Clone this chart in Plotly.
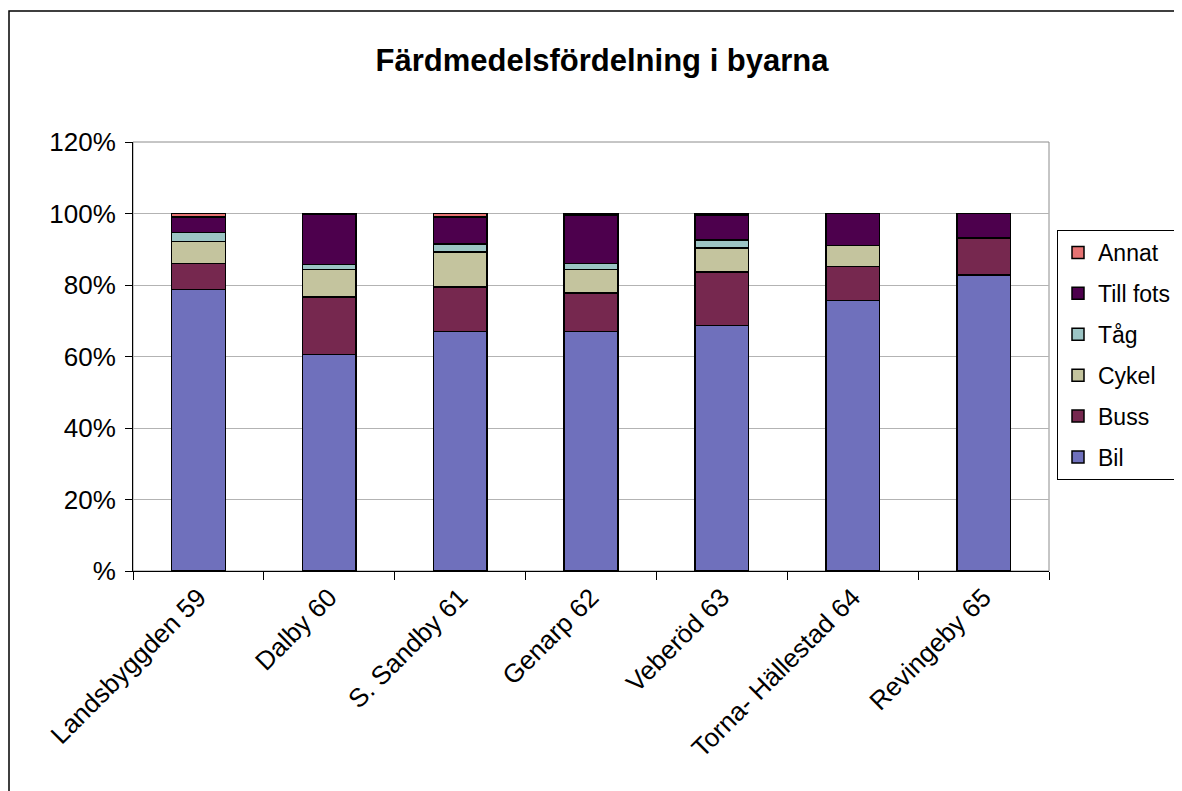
import plotly.graph_objects as go

# Färdmedelsfördelning per by (procent)
byar = ["Landsbyggden 59", "Dalby 60", "S. Sandby 61", "Genarp 62",
        "Veberöd 63", "Torna- Hällestad 64", "Revingeby 65"]

bil = [78.8, 60.6, 67.0, 67.0, 68.7, 75.7, 82.8]
buss = [7.2, 16.0, 12.4, 10.8, 15.0, 9.5, 10.3]
cykel = [6.1, 7.8, 9.9, 6.6, 6.7, 5.9, 0.0]
tag = [2.6, 1.4, 2.2, 1.6, 2.2, 0.0, 0.0]
till_fots = [4.3, 13.9, 7.5, 13.6, 7.0, 8.9, 6.9]
annat = [1.0, 0.3, 1.0, 0.4, 0.4, 0.0, 0.0]

ytick_vals = [0, 20, 40, 60, 80, 100, 120]
ytick_text = ["%", "20%", "40%", "60%", "80%", "100%", "120%"]

series = [
    ("Bil", bil, "#6f70bc"),
    ("Buss", buss, "#76284f"),
    ("Cykel", cykel, "#c4c49e"),
    ("Tåg", tag, "#9cc4c4"),
    ("Till fots", till_fots, "#4d004d"),
    ("Annat", annat, "#e67373"),
]

font = "Liberation Sans, Arial, sans-serif"

# sidan har 8px marginal runt diagrammet
W, H = 1182, 791
L, R, T, B = 125, 141, 134, 228
pw, ph = W - L - R, H - T - B

fig = go.Figure()
for i, (name, vals, color) in enumerate(series):
    fig.add_trace(go.Bar(
        x=byar, y=vals, name=name, legendgroup=name,
        legendrank=len(series) - i,
        marker=dict(color=color, line=dict(color="black", width=1.5)),
    ))

fig.update_layout(
    barmode="stack", bargap=0.59,
    width=W, height=H,
    margin=dict(l=L, r=R, t=T, b=B, autoexpand=False),
    paper_bgcolor="white", plot_bgcolor="white",
    font=dict(family=font, size=26, color="black"),
    title=dict(text="<b>Färdmedelsfördelning i byarna</b>",
               font=dict(size=31, family=font),
               x=(594 - L) / pw, xref="paper", xanchor="center",
               y=1 - 52 / H, yref="container", yanchor="middle"),
    legend=dict(x=(1049 - L) / pw, xanchor="left",
                y=(T + ph - 222) / ph, yanchor="top",
                traceorder="grouped", tracegroupgap=8,
                bordercolor="black", borderwidth=1,
                font=dict(size=23, family=font), itemwidth=30),
    showlegend=True,
)

fig.update_yaxes(range=[0, 120], tickvals=ytick_vals, ticktext=ytick_text,
                 showgrid=True, gridcolor="#b3b3b3", gridwidth=1,
                 showline=True, linecolor="black", linewidth=1,
                 ticks="outside", ticklen=7, tickcolor="black",
                 ticklabelstandoff=4,
                 zeroline=False, tickfont=dict(size=26))
fig.update_xaxes(showline=True, linecolor="black", linewidth=1,
                 ticks="outside", tickson="boundaries", ticklen=8,
                 tickcolor="black", tickangle=-45, tickfont=dict(size=26))

# ram runt plotytan (grå) och runt hela diagrammet (svart)
fig.add_shape(type="rect", xref="paper", yref="paper", x0=0, x1=1, y0=0, y1=1,
              line=dict(color="#8c8c8c", width=1), layer="below")
fig.add_shape(type="rect", xref="paper", yref="paper",
              x0=(1 - L) / pw, x1=(1200 - L) / pw,
              y0=(T + ph - 800) / ph, y1=(T + ph - 3) / ph,
              line=dict(color="black", width=1.5))

fig.write_html("out.html")
